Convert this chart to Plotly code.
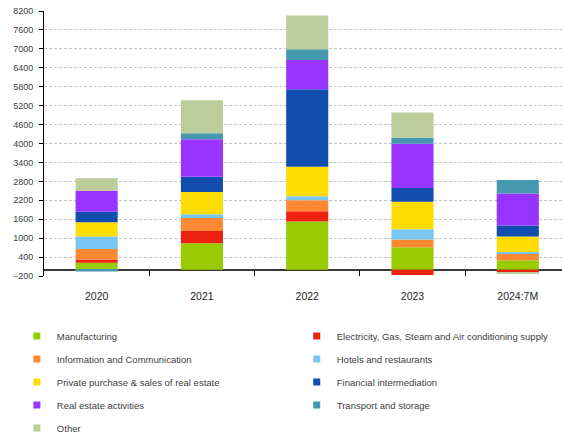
import plotly.graph_objects as go

# Periods on the category axis
periods = ["2020", "2021", "2022", "2023", "2024:7M"]

# Contributions by sector (stacked; negatives stack below zero)
manufacturing = [220, 840, 1530, 710, 300]
electricity = [95, 390, 320, -170, -100]
information = [340, 410, 350, 250, 215]
hotels = [400, 120, 130, 320, 45]
private_real_estate = [445, 705, 930, 875, 490]
financial = [335, 485, 2460, 435, 350]
real_estate = [665, 1185, 930, 1405, 1015]
transport = [-60, 190, 340, 190, 430]
other = [395, 1045, 1065, 795, -30]

# Y axis tick values
y_ticks = [-200, 400, 1000, 1600, 2200, 2800, 3400, 4000, 4600, 5200,
           5800, 6400, 7000, 7600, 8200]

series = [
    ("Manufacturing", manufacturing, "#99CC00", "legend"),
    ("Electricity, Gas, Steam and Air conditioning supply", electricity, "#EE2211", "legend2"),
    ("Information and Communication", information, "#FF8833", "legend"),
    ("Hotels and restaurants", hotels, "#77C7F2", "legend2"),
    ("Private purchase & sales of real estate", private_real_estate, "#FFDD00", "legend"),
    ("Financial intermediation", financial, "#114EAF", "legend2"),
    ("Real estate activities", real_estate, "#9933FF", "legend"),
    ("Transport and storage", transport, "#4499AF", "legend2"),
    ("Other", other, "#BCCC9A", "legend"),
]

FONT = "Liberation Sans, Arial, sans-serif"

fig = go.Figure()
for name, vals, color, leg in series:
    fig.add_trace(go.Bar(
        x=periods, y=vals, name=name, width=0.4,
        marker=dict(color=color, line=dict(width=0)),
        showlegend=False, legendgroup=name,
    ))

# Small square swatches for the two-column legend
for name, vals, color, leg in series:
    fig.add_trace(go.Scatter(
        x=[None], y=[None], mode="markers", name=name,
        marker=dict(symbol="square", size=7, color=color),
        legend=leg, legendgroup=name, showlegend=True, hoverinfo="skip",
    ))

legend_common = dict(
    orientation="v", xanchor="left", yanchor="top",
    xref="container", yref="container",
    font=dict(family=FONT, size=9.5, color="#404040"),
    bgcolor="rgba(0,0,0,0)", borderwidth=0,
    tracegroupgap=4, traceorder="grouped",
)

fig.update_layout(
    width=562, height=438,
    margin=dict(l=44, r=0, t=11, b=162, autoexpand=False),
    paper_bgcolor="white", plot_bgcolor="white",
    barmode="relative",
    font=dict(family=FONT, size=10, color="#404040"),
    legend=dict(x=0.030, y=0.266, **legend_common),
    legend2=dict(x=0.528, y=0.266, **legend_common),
    xaxis=dict(
        type="category", range=[-0.5, 4.42], automargin=False,
        tickson="boundaries", ticks="inside", ticklen=6, tickcolor="black",
        tickwidth=1, showgrid=False, showline=False, zeroline=False,
        tickfont=dict(family=FONT, size=10.5, color="#262626"),
        ticklabelstandoff=12,
    ),
    yaxis=dict(
        range=[-200, 8200], tickvals=y_ticks, automargin=False,
        ticks="outside", ticklen=4, tickcolor="black", tickwidth=1,
        showline=True, linecolor="black", linewidth=1,
        showgrid=True, gridcolor="#C4C4C4", gridwidth=1, griddash="3px,2px",
        zeroline=True, zerolinecolor="#3A3A3A", zerolinewidth=2,
        tickfont=dict(family=FONT, size=9, color="#404040"),
        ticklabelstandoff=4,
    ),
)

fig.write_html("out.html")
